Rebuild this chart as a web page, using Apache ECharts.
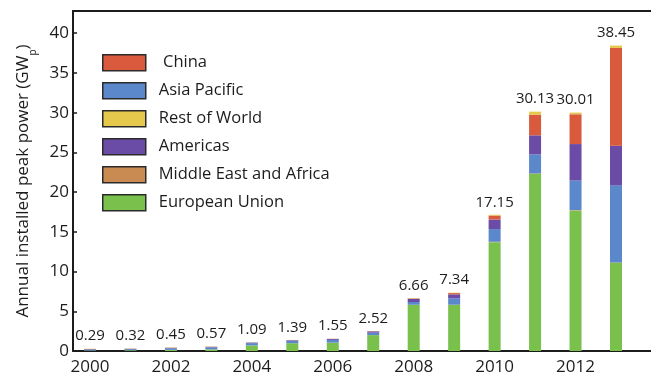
<!DOCTYPE html>
<html>
<head>
<meta charset="utf-8">
<script src="https://cdn.jsdelivr.net/npm/echarts@6.0.0/dist/echarts.min.js"></script>
<style>
  html, body { margin: 0; padding: 0; background: #ffffff; }
  #chart { width: 651px; height: 377px; }
</style>
</head>
<body>
<div id="chart"></div>
<script>
// Annual installed PV peak power by region, GWp
const years = [2000, 2001, 2002, 2003, 2004, 2005, 2006, 2007, 2008, 2009, 2010, 2011, 2012, 2013];
const yearTicks = [2000, 2002, 2004, 2006, 2008, 2010, 2012];
const totals = [0.29, 0.32, 0.45, 0.57, 1.09, 1.39, 1.55, 2.52, 6.66, 7.34, 17.15, 30.13, 30.01, 38.45];

// stacked from the bottom up
const europeanUnion = [0.06, 0.09, 0.14, 0.20, 0.70, 0.98, 1.05, 2.00, 5.80, 5.80, 13.70, 22.30, 17.70, 11.10];
const middleEastAfrica = [0.00, 0.00, 0.00, 0.00, 0.00, 0.00, 0.00, 0.01, 0.02, 0.03, 0.05, 0.05, 0.05, 0.05];
const asiaPacific = [0.13, 0.14, 0.20, 0.26, 0.29, 0.30, 0.35, 0.30, 0.35, 0.80, 1.60, 2.40, 3.70, 9.70];
const americas = [0.05, 0.05, 0.06, 0.07, 0.07, 0.08, 0.12, 0.17, 0.40, 0.50, 1.20, 2.40, 4.60, 5.00];
const china = [0.01, 0.01, 0.02, 0.01, 0.01, 0.01, 0.01, 0.02, 0.05, 0.16, 0.50, 2.60, 3.75, 12.30];
const restOfWorld = [0.04, 0.03, 0.03, 0.03, 0.02, 0.02, 0.02, 0.02, 0.04, 0.05, 0.10, 0.38, 0.21, 0.30];

const legendOrder = ['China', 'Asia Pacific', 'Rest of World', 'Americas', 'Middle East and Africa', 'European Union'];

const ink = '#1c1c1c';
const font = 'Open Sans';

const stackDefs = [
  { name: 'European Union', values: europeanUnion, color: '#79c04d' },
  { name: 'Middle East and Africa', values: middleEastAfrica, color: '#c98b52' },
  { name: 'Asia Pacific', values: asiaPacific, color: '#5b87cb' },
  { name: 'Americas', values: americas, color: '#6a4ba6' },
  { name: 'China', values: china, color: '#d95a3c' },
  { name: 'Rest of World', values: restOfWorld, color: '#e6c84c' }
];

// each item is [value, year] so that the value column is the one that gets stacked
const series = stackDefs.map((d, k) => ({
  name: d.name,
  type: 'bar',
  stack: 'total',
  barWidth: 12,
  encode: { x: 1, y: 0 },
  itemStyle: { color: d.color },
  emphasis: { disabled: true },
  data: years.map((y, i) => [d.values[i], y]),
  label: k === stackDefs.length - 1 ? {
    show: true,
    position: 'top',
    distance: 5,
    fontFamily: font,
    fontSize: 15,
    color: ink,
    formatter: p => totals[p.dataIndex].toFixed(2)
  } : { show: false }
}));

const chart = echarts.init(document.getElementById('chart'), null, { renderer: 'canvas' });
chart.setOption({
  animation: false,
  backgroundColor: '#ffffff',
  textStyle: { fontFamily: font },
  grid: { left: 73, right: 0, top: 11, bottom: 26, containLabel: false },
  legend: {
    orient: 'vertical',
    left: 97,
    top: 49,
    data: legendOrder,
    icon: 'rect',
    itemWidth: 43,
    itemHeight: 16,
    itemGap: 10.5,
    selectedMode: false,
    itemStyle: { borderColor: '#2a2a2a', borderWidth: 1.5 },
    formatter: name => (name === 'China' ? ' ' + name : name),
    textStyle: { fontFamily: font, fontSize: 16.5, color: ink, padding: [0, 0, 0, 8] }
  },
  xAxis: [
    {
      type: 'value',
      position: 'bottom',
      min: 1999.58,
      max: 2013.865,
      axisLine: { show: true, onZero: false, lineStyle: { color: ink, width: 2 } },
      axisTick: { show: false },
      splitLine: { show: false },
      axisLabel: {
        customValues: yearTicks,
        fontFamily: font,
        fontSize: 17,
        color: ink,
        margin: 8,
        formatter: v => String(v)
      }
    },
    {
      type: 'value',
      position: 'top',
      min: 1999.58,
      max: 2013.865,
      axisLine: { show: true, onZero: false, lineStyle: { color: ink, width: 2 } },
      axisTick: { show: false },
      axisLabel: { show: false },
      splitLine: { show: false }
    }
  ],
  yAxis: {
    type: 'value',
    min: 0,
    max: 42.8,
    interval: 5,
    name: 'Annual installed peak power (GW{sub|p})',
    nameLocation: 'middle',
    nameGap: 41,
    nameTextStyle: {
      fontFamily: font,
      fontSize: 17,
      color: ink,
      rich: {
        sub: { fontFamily: font, fontSize: 10, color: ink, verticalAlign: 'bottom', padding: [0, 0, -6, 0] }
      }
    },
    axisLine: { show: true, onZero: false, lineStyle: { color: ink, width: 2 } },
    axisTick: { show: true, inside: true, length: 4, lineStyle: { color: ink, width: 1.5 } },
    splitLine: { show: false },
    axisLabel: {
      fontFamily: font,
      fontSize: 17,
      color: ink,
      margin: 4,
      showMaxLabel: false,
      formatter: v => (v % 5 === 0 ? String(v) : '')
    }
  },
  series: series
});
</script>
</body>
</html>
